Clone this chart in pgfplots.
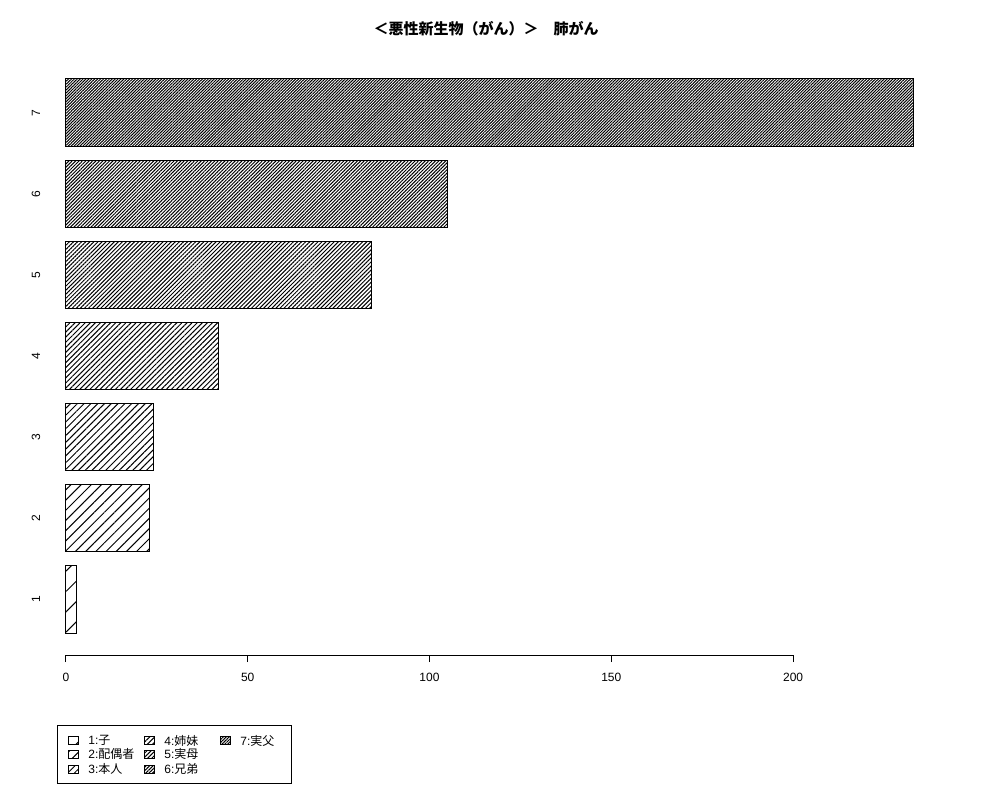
\documentclass[border=0pt]{standalone}
\usepackage{fontspec}
\setmainfont{Liberation Sans}
\newfontfamily\cjk{Noto Sans CJK JP}
\usepackage{pgfplots}
\pgfplotsset{compat=1.18}
\usetikzlibrary{patterns.meta}
\begin{document}
\begin{tikzpicture}
\path (0,0) rectangle (500pt,400pt);
\begin{axis}[
  at={(16pt,72.4pt)}, anchor=south west,
  scale only axis, width=457.5pt, height=299.2pt,
  xmin=-9.32, xmax=242.32, ymin=-0.128, ymax=8.728,
  axis lines*=left,
  x axis line style={draw=none}, y axis line style={draw=none},
  xtick={0,50,100,150,200},
  ytick={0.7,1.9,3.1,4.3,5.5,6.7,7.9},
  yticklabels={1,2,3,4,5,6,7},
  ytick style={draw=none},
  tick align=outside, major tick length=3.5pt,
  xtick style={black, line width=0.5pt},
  /pgf/number format/assume math mode=true,
  ticklabel style={font=\fontsize{6}{7}\selectfont},
  xticklabel style={anchor=base, yshift=-9.5pt},
  yticklabel style={rotate=90, anchor=center, yshift=-5.5pt},
  clip=false,
]
\addplot[xbar, bar shift=0pt, bar width=33.78pt, draw=black, line width=0.5pt, pattern={Lines[angle=45,distance=7.2pt,line width=0.5pt]}] coordinates {(3,0.7)};
\addplot[xbar, bar shift=0pt, bar width=33.78pt, draw=black, line width=0.5pt, pattern={Lines[angle=45,distance=3.6pt,line width=0.5pt]}] coordinates {(23,1.9)};
\addplot[xbar, bar shift=0pt, bar width=33.78pt, draw=black, line width=0.5pt, pattern={Lines[angle=45,distance=2.4pt,line width=0.5pt]}] coordinates {(24,3.1)};
\addplot[xbar, bar shift=0pt, bar width=33.78pt, draw=black, line width=0.5pt, pattern={Lines[angle=45,distance=1.8pt,line width=0.5pt]}] coordinates {(42,4.3)};
\addplot[xbar, bar shift=0pt, bar width=33.78pt, draw=black, line width=0.5pt, pattern={Lines[angle=45,distance=1.44pt,line width=0.5pt]}] coordinates {(84,5.5)};
\addplot[xbar, bar shift=0pt, bar width=33.78pt, draw=black, line width=0.5pt, pattern={Lines[angle=45,distance=1.2pt,line width=0.5pt]}] coordinates {(105,6.7)};
\addplot[xbar, bar shift=0pt, bar width=33.78pt, draw=black, line width=0.5pt, pattern={Lines[angle=45,distance=1.03pt,line width=0.5pt]}] coordinates {(233,7.9)};
\draw[black, line width=0.5pt] (axis cs:0,-0.128) -- (axis cs:200,-0.128);
\end{axis}
% title
\node[font=\cjk\bfseries\fontsize{7.5}{8.5}\selectfont] at (243pt,385.5pt) {＜悪性新生物（がん）＞　肺がん};
% legend
\draw[black, line width=0.5pt] (28.5pt,400pt-362.5pt) rectangle (145.5pt,400pt-391.5pt);
\begin{scope}[font=\fontsize{6}{7}\selectfont]
\def\keyw{5pt}\def\keyh{4pt}
% column 1
\draw[line width=0.4pt, pattern={Lines[angle=45,distance=7.2pt,line width=0.5pt]}] (34pt,400pt-372.4pt) rectangle ++(\keyw,\keyh);
\node[anchor=west, inner sep=0] at (44pt,400pt-370.4pt) {1:{\cjk 子}};
\draw[line width=0.4pt, pattern={Lines[angle=45,distance=3.6pt,line width=0.5pt]}] (34pt,400pt-379.2pt) rectangle ++(\keyw,\keyh);
\node[anchor=west, inner sep=0] at (44pt,400pt-377.2pt) {2:{\cjk 配偶者}};
\draw[line width=0.4pt, pattern={Lines[angle=45,distance=2.4pt,line width=0.5pt]}] (34pt,400pt-386.6pt) rectangle ++(\keyw,\keyh);
\node[anchor=west, inner sep=0] at (44pt,400pt-384.6pt) {3:{\cjk 本人}};
% column 2
\draw[line width=0.4pt, pattern={Lines[angle=45,distance=1.8pt,line width=0.5pt]}] (72.2pt,400pt-372.4pt) rectangle ++(\keyw,\keyh);
\node[anchor=west, inner sep=0] at (82pt,400pt-370.4pt) {4:{\cjk 姉妹}};
\draw[line width=0.4pt, pattern={Lines[angle=45,distance=1.44pt,line width=0.5pt]}] (72.2pt,400pt-379.2pt) rectangle ++(\keyw,\keyh);
\node[anchor=west, inner sep=0] at (82pt,400pt-377.2pt) {5:{\cjk 実母}};
\draw[line width=0.4pt, pattern={Lines[angle=45,distance=1.2pt,line width=0.5pt]}] (72.2pt,400pt-386.6pt) rectangle ++(\keyw,\keyh);
\node[anchor=west, inner sep=0] at (82pt,400pt-384.6pt) {6:{\cjk 兄弟}};
% column 3
\draw[line width=0.4pt, pattern={Lines[angle=45,distance=1.03pt,line width=0.5pt]}] (110pt,400pt-372.4pt) rectangle ++(\keyw,\keyh);
\node[anchor=west, inner sep=0] at (120pt,400pt-370.4pt) {7:{\cjk 実父}};
\end{scope}
\end{tikzpicture}
\end{document}
